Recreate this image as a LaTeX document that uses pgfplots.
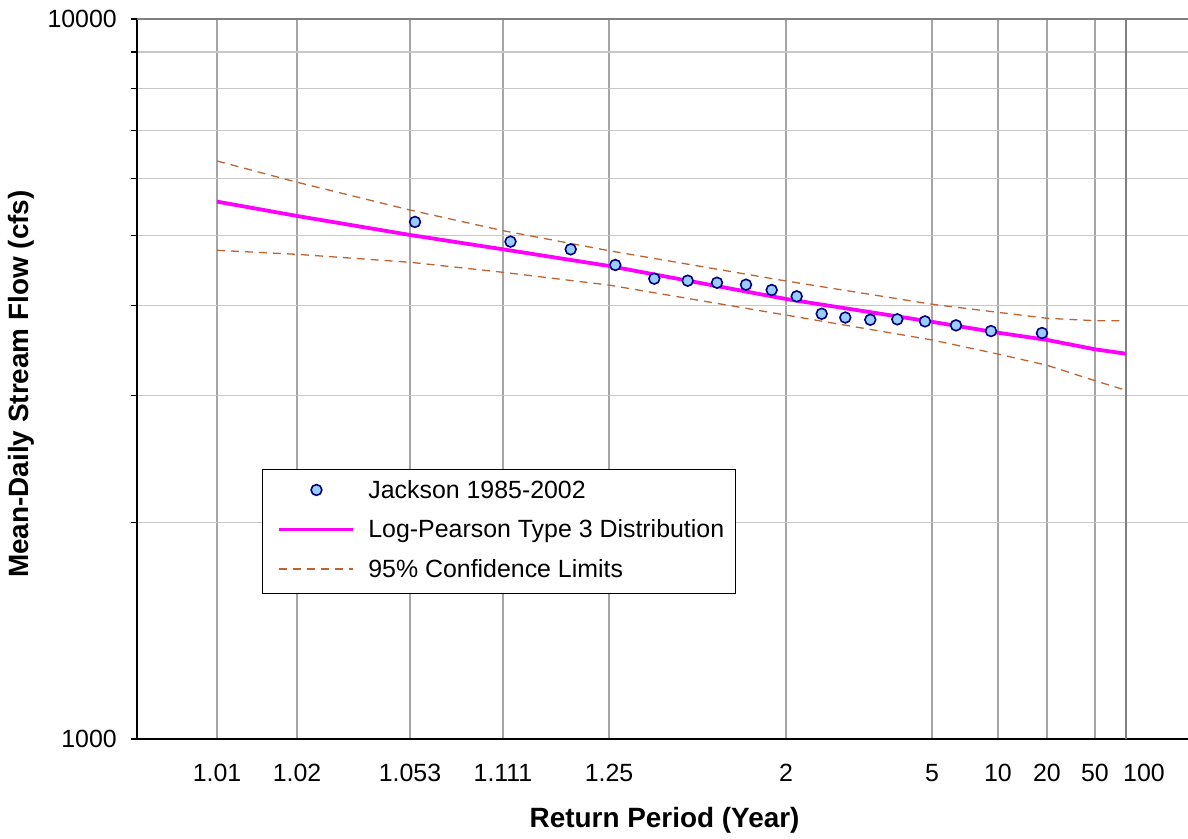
\documentclass[border=0pt]{standalone}
\usepackage{pgfplots}
\pgfplotsset{compat=1.18}
\usepackage{fontspec}
\setmainfont{Liberation Sans}
\definecolor{ptfill}{HTML}{99CCFF}
\definecolor{ptedge}{HTML}{000080}
\definecolor{lpcol}{HTML}{FF00FF}
\definecolor{cicol}{RGB}{190,100,50}
\definecolor{vgrid}{RGB}{165,165,165}
\definecolor{hgrid}{RGB}{200,200,200}
\definecolor{topgrid}{RGB}{128,128,128}

\pgfplotsset{
  lineleg/.style={legend image code/.code={\path[draw=none] (0bp,2bp) -- (80bp,2bp); \draw[##1] (6bp,2bp) -- (80bp,2bp);}},
  markleg/.style={legend image code/.code={\path[draw=none] (0bp,2bp) -- (80bp,2bp); \draw[##1] plot coordinates {(43bp,2bp)};}},
  obsstyle/.style={only marks, mark=*, mark size=5.4bp,
    mark options={draw=ptedge, fill=ptfill, line width=1.6bp}},
  cistyle/.style={cicol, line width=1.3bp, dash pattern=on 8bp off 6bp},
}

\pgfplotstableread{
x y
415 5225
510.5 4906
570.7 4787
615.3 4553
654.3 4358
687.7 4330
717 4302
746 4275
771.7 4203
796.7 4119
821.7 3896
845.3 3849
870.3 3822
897.3 3827
925 3802
956 3754
991 3686
1042 3663
}\obsdata

\pgfplotstableread{
x y
217 5576
297 5326
410 5012
503 4787
609 4539
786 4084
932 3797
998 3667
1047 3583
1095 3477
1126 3428
}\lpdata

\pgfplotstableread{
x y
217 6350
297 5933
410 5428
503 5081
609 4766
786 4326
932 4016
998 3914
1047 3840
1095 3811
1126 3811
}\upperdata

\pgfplotstableread{
x y
217 4772
297 4711
410 4593
503 4448
609 4270
786 3880
932 3583
998 3425
1047 3304
1095 3145
1126 3050
}\lowerdata

\begin{document}
\begin{tikzpicture}
\path[use as bounding box] (0bp,0bp) rectangle (1188bp,839bp);
\begin{axis}[
  at={(137bp,100bp)}, anchor=south west,
  scale only axis, width=1051bp, height=720bp,
  xmin=137, xmax=1188,
  ymode=log, ymin=1000, ymax=10000,
  axis lines=left,
  axis line style={-, black, line width=1.3bp},
  every outer x axis line/.append style={-},
  every outer y axis line/.append style={-},
  every inner x axis line/.append style={-},
  every inner y axis line/.append style={-},
  xtick={217,297,410,503,609,786,932,998,1047,1095},
  xticklabels={1.01,1.02,1.053,1.111,1.25,2,5,10,20,50},
  extra x ticks={1126}, extra x tick labels={100},
  extra x tick style={grid=major, major grid style={draw=topgrid, line width=2bp},
    xticklabel style={xshift=18bp}},
  xmajorgrids,
  major grid style={draw=vgrid, line width=1.2bp},
  ytick={1000}, yticklabels={1000},
  extra y ticks={10000}, extra y tick labels={10000},
  extra y tick style={grid=major, major grid style={draw=topgrid, line width=1.3bp}},
  minor ytick={2000,3000,4000,5000,6000,7000,8000,9000},
  yminorgrids,
  minor grid style={draw=hgrid, line width=1.2bp},
  xtick style={draw=none},
  ytick style={draw=black, line width=1.3bp},
  tick align=outside,
  major tick length=6bp, minor tick length=6bp,
  xtick pos=bottom, ytick pos=left,
  ticklabel style={font=\fontsize{25}{29}\selectfont},
  yticklabel style={inner sep=0pt, xshift=-14bp},
  xticklabel style={inner sep=0pt, yshift=-19bp},
  xlabel={Return Period (Year)},
  ylabel={Mean-Daily Stream Flow (cfs)},
  every axis x label/.style={at={(axis description cs:0.502,-0.1236)}, anchor=base, font=\fontsize{28}{34}\selectfont\bfseries},
  every axis y label/.style={at={(axis description cs:-0.1037,0.493)}, anchor=base, rotate=90, font=\fontsize{28}{34}\selectfont\bfseries},
  legend style={at={(axis description cs:0.1189,0.375)}, anchor=north west,
    draw=black, line width=1bp, fill=white,
    font=\fontsize{25}{30}\selectfont,
    inner xsep=11bp, inner ysep=10.5bp, row sep=15.5bp, column sep=13bp,
    nodes={inner sep=0pt, text height=18.5bp, text depth=5.5bp}},
  legend cell align=left,
]
\addlegendimage{obsstyle, markleg}
\addlegendentry{Jackson 1985-2002}
\addplot[cistyle, forget plot] table[x=x,y=y] {\lowerdata};
\addplot[lpcol, line width=3.8bp, lineleg] table[x=x,y=y] {\lpdata};
\addlegendentry{Log-Pearson Type 3 Distribution}
\addplot[cistyle, lineleg] table[x=x,y=y] {\upperdata};
\addlegendentry{95\% Confidence Limits}
\addplot[obsstyle, forget plot] table[x=x,y=y] {\obsdata};
\end{axis}
\end{tikzpicture}
\end{document}
